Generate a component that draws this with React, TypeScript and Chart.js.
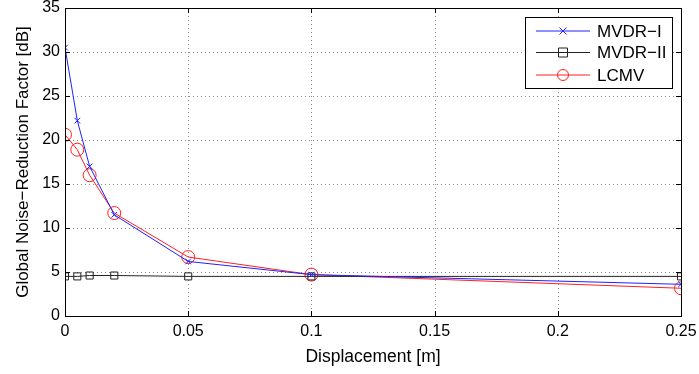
import React, { useEffect, useRef } from "react";
import { Chart, registerables } from "chart.js";

Chart.register(...registerables);

const displacement = [0, 0.005, 0.01, 0.02, 0.05, 0.1, 0.25];
const mvdr1 = [30.5, 22.2, 17.0, 11.5, 6.2, 4.7, 3.6];
const mvdr2 = [4.5, 4.5, 4.6, 4.6, 4.5, 4.5, 4.5];
const lcmv = [20.6, 18.9, 16.0, 11.7, 6.7, 4.7, 3.15];
const xTickLabels = ["0", "0.05", "0.1", "0.15", "0.2", "0.25"];
const yTickLabels = ["0", "5", "10", "15", "20", "25", "30", "35"];
const seriesNames = ["MVDR\u2212I", "MVDR\u2212II", "LCMV"];
const seriesColors = ["#2020ff", "#222222", "#ff2020"];
const seriesMarkers = ["crossRot", "rect", "circle"];
const FONT = "'Liberation Sans', Arial, Helvetica, sans-serif";

const gridPlugin = {
  id: "dottedGrid",
  beforeDatasetsDraw(chart: any) {
    const { ctx, chartArea } = chart;
    const { left, right, top, bottom } = chartArea;
    const xs = chart.scales.x;
    const ys = chart.scales.y;
    ctx.save();
    ctx.strokeStyle = "#8a8a8a";
    ctx.lineWidth = 1;
    ctx.setLineDash([1, 3]);
    ctx.beginPath();
    xs.ticks.forEach((t: any, i: number) => {
      if (i === 0 || i === xs.ticks.length - 1) return;
      const px = Math.round(xs.getPixelForValue(t.value)) + 0.5;
      ctx.moveTo(px, top);
      ctx.lineTo(px, bottom);
    });
    ys.ticks.forEach((t: any, i: number) => {
      if (i === 0 || i === ys.ticks.length - 1) return;
      const py = Math.round(ys.getPixelForValue(t.value)) + 0.5;
      ctx.moveTo(left, py);
      ctx.lineTo(right, py);
    });
    ctx.stroke();
    ctx.restore();
  },
};

const framePlugin = {
  id: "frame",
  afterDatasetsDraw(chart: any) {
    const { ctx, chartArea } = chart;
    const { left, right, top, bottom } = chartArea;
    ctx.save();
    ctx.strokeStyle = "#000";
    ctx.lineWidth = 1;
    ctx.setLineDash([]);
    ctx.strokeRect(Math.round(left) + 0.5, Math.round(top) + 0.5, Math.round(right - left), Math.round(bottom - top));
    const xs = chart.scales.x;
    const ys = chart.scales.y;
    const tl = 5;
    ctx.beginPath();
    xs.ticks.forEach((t: any) => {
      const px = Math.round(xs.getPixelForValue(t.value)) + 0.5;
      ctx.moveTo(px, bottom);
      ctx.lineTo(px, bottom - tl);
      ctx.moveTo(px, top);
      ctx.lineTo(px, top + tl);
    });
    ys.ticks.forEach((t: any) => {
      const py = Math.round(ys.getPixelForValue(t.value)) + 0.5;
      ctx.moveTo(left, py);
      ctx.lineTo(left + tl, py);
      ctx.moveTo(right, py);
      ctx.lineTo(right - tl, py);
    });
    ctx.stroke();

    // legend
    const bx = 525.5, by = 17.5, bw = 147, bh = 71;
    ctx.fillStyle = "#fff";
    ctx.fillRect(bx, by, bw, bh);
    ctx.strokeStyle = "#000";
    ctx.strokeRect(bx, by, bw, bh);
    const rowsY = [31, 52.5, 75];
    chart.data.datasets.forEach((ds: any, i: number) => {
      const y = rowsY[i];
      ctx.strokeStyle = ds.borderColor;
      ctx.lineWidth = 1;
      ctx.beginPath();
      ctx.moveTo(536, y);
      ctx.lineTo(590, y);
      ctx.stroke();
      const ps = ds.pointStyle;
      ctx.beginPath();
      if (ps === "circle") {
        ctx.arc(563, y, 5.5, 0, Math.PI * 2);
      } else if (ps === "rect") {
        ctx.rect(558.5, y - 4.5, 9, 9);
      } else {
        ctx.moveTo(559.5, y - 3.5);
        ctx.lineTo(566.5, y + 3.5);
        ctx.moveTo(566.5, y - 3.5);
        ctx.lineTo(559.5, y + 3.5);
      }
      ctx.stroke();
      ctx.fillStyle = "#000";
      ctx.font = `17px ${FONT}`;
      ctx.textBaseline = "middle";
      ctx.textAlign = "left";
      ctx.fillText(ds.label, 597, y + 1);
    });
    ctx.restore();
  },
};

export default function App() {
  const ref = useRef<HTMLCanvasElement>(null);
  useEffect(() => {
    document.body.style.margin = "0";
    const datasets = [mvdr1, mvdr2, lcmv].map((vals, i) => ({
      label: seriesNames[i],
      data: displacement.map((x, j) => ({ x, y: vals[j] })),
      borderColor: seriesColors[i],
      backgroundColor: "transparent",
      borderWidth: 1,
      pointStyle: seriesMarkers[i] as any,
      pointRadius: i === 0 ? 4 : i === 1 ? 5 : 6.5,
      pointBorderColor: seriesColors[i],
      pointBackgroundColor: "transparent",
      pointBorderWidth: 1,
      showLine: true,
      tension: 0,
    }));
    const zeroPad = (s: any) => {
      s.paddingTop = 0;
      s.paddingBottom = 0;
      s.paddingLeft = 0;
      s.paddingRight = 0;
    };
    const chart = new Chart(ref.current!, {
      type: "scatter",
      data: { datasets },
      plugins: [gridPlugin, framePlugin],
      options: {
        animation: false,
        responsive: false,
        layout: { padding: { top: 8, right: 18, left: 0, bottom: 0 } },
        plugins: { legend: { display: false }, tooltip: { enabled: false } },
        scales: {
          x: {
            type: "linear",
            min: 0,
            max: 0.25,
            afterFit: (s: any) => { s.height = 58; zeroPad(s); },
            ticks: {
              stepSize: 0.05,
              color: "#000",
              font: { family: FONT, size: 16 },
              padding: 6,
              maxRotation: 0,
              callback: (_v: any, idx: number) => xTickLabels[idx],
            },
            grid: { display: false, drawTicks: false, tickLength: 0 },
            border: { display: false },
            title: { display: true, text: "Displacement [m]", color: "#000", font: { family: FONT, size: 17.5 }, padding: { top: 0, bottom: 6 } },
          },
          y: {
            type: "linear",
            min: 0,
            max: 35,
            afterFit: (s: any) => { s.width = 65; zeroPad(s); },
            ticks: {
              stepSize: 5,
              color: "#000",
              font: { family: FONT, size: 16 },
              padding: 5,
              callback: (_v: any, idx: number) => yTickLabels[idx],
            },
            grid: { display: false, drawTicks: false, tickLength: 0 },
            border: { display: false },
            title: { display: true, text: "Global Noise\u2212Reduction Factor [dB]", color: "#000", font: { family: FONT, size: 17 }, padding: { top: 13, bottom: 0 } },
          },
        },
      } as any,
    });
    return () => chart.destroy();
  }, []);
  return (
    <div style={{ position: "fixed", left: 0, top: 0, width: 699, height: 374, background: "#fff" }}>
      <canvas ref={ref} width={699} height={374} style={{ width: 699, height: 374 }} />
    </div>
  );
}
